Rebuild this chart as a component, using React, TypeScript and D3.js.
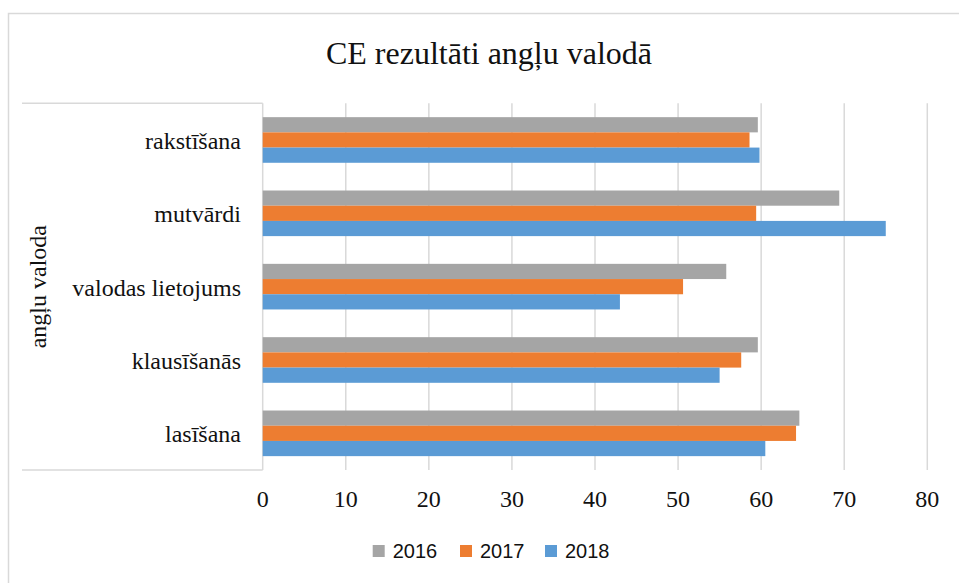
import React from "react";
import * as d3 from "d3";

const categories = ["rakstīšana", "mutvārdi", "valodas lietojums", "klausīšanās", "lasīšana"];
const seriesNames = ["2016", "2017", "2018"];
const values2016 = [59.6, 69.4, 55.8, 59.6, 64.6];
const values2017 = [58.6, 59.4, 50.6, 57.6, 64.2];
const values2018 = [59.8, 75.0, 43.0, 55.0, 60.5];
const xTicks = [0, 10, 20, 30, 40, 50, 60, 70, 80];
const colors = ["#A5A5A5", "#ED7D31", "#5B9BD5"];
const title = "CE rezultāti angļu valodā";
const axisTitle = "angļu valoda";

const W = 959;
const H = 583;
const serif = "'Liberation Serif', 'Times New Roman', serif";
const sans = "'Liberation Sans', Arial, sans-serif";

export default function App() {
  const series = [values2016, values2017, values2018];
  const plot = { left: 262.7, right: 927.3, top: 103.3, bottom: 470 };
  const x = d3.scaleLinear().domain([0, 80]).range([plot.left, plot.right]);
  const y = d3.scaleBand().domain(categories).range([plot.top, plot.bottom]).paddingInner(0.378).paddingOuter(0.189);
  const inner = d3.scaleBand().domain(seriesNames).range([0, y.bandwidth()]);
  const grid = "#D9D9D9";
  const legendX = [372.7, 460, 545];

  return (
    <svg width={W} height={H} style={{ position: "absolute", left: 0, top: 0 }}>
      <rect x={8.5} y={13.5} width={1000} height={1000} fill="#fff" stroke={grid} strokeWidth={1.5} />
      <text x={489} y={64} textAnchor="middle" fontFamily={serif} fontSize={32} fill="#111">{title}</text>
      {xTicks.map((t) => (
        <line key={"g" + t} x1={x(t)} x2={x(t)} y1={plot.top} y2={plot.bottom} stroke={grid} strokeWidth={1.5} />
      ))}
      <line x1={22} x2={plot.left} y1={plot.top} y2={plot.top} stroke={grid} strokeWidth={1.5} />
      <line x1={22} x2={plot.left} y1={plot.bottom} y2={plot.bottom} stroke={grid} strokeWidth={1.5} />
      {categories.map((c, i) => (
        <g key={c}>
          {series.map((s, k) => (
            <rect
              key={k}
              x={x(0)}
              y={(y(c) as number) + (inner(seriesNames[k]) as number)}
              width={x(s[i]) - x(0)}
              height={inner.bandwidth()}
              fill={colors[k]}
            />
          ))}
          <text
            x={241}
            y={(y(c) as number) + y.bandwidth() / 2 + 9}
            textAnchor="end"
            fontFamily={serif}
            fontSize={24}
            fill="#111"
          >
            {c}
          </text>
        </g>
      ))}
      {xTicks.map((t) => (
        <text key={"t" + t} x={x(t)} y={507} textAnchor="middle" fontFamily={serif} fontSize={24} fill="#111">
          {t}
        </text>
      ))}
      <text
        transform={`translate(46,${(plot.top + plot.bottom) / 2}) rotate(-90)`}
        textAnchor="middle"
        fontFamily={serif}
        fontSize={24}
        fill="#111"
      >
        {axisTitle}
      </text>
      {seriesNames.map((n, k) => (
        <g key={n}>
          <rect x={legendX[k]} y={545} width={12} height={12} fill={colors[k]} />
          <text x={legendX[k] + 20} y={558} fontFamily={sans} fontSize={20} fill="#111">{n}</text>
        </g>
      ))}
    </svg>
  );
}
